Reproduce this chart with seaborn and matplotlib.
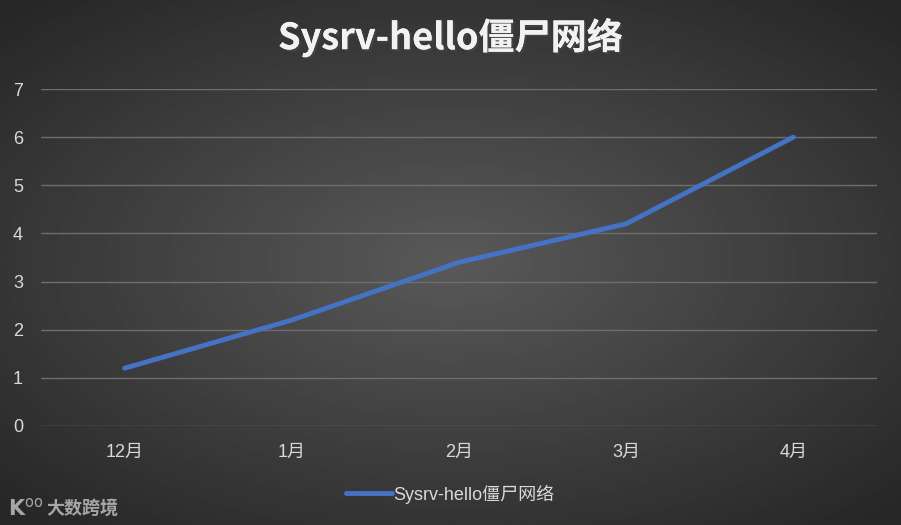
import numpy as np
import pandas as pd
import matplotlib
matplotlib.use("Agg")
import matplotlib.pyplot as plt
import matplotlib.patheffects as pe
from matplotlib.lines import Line2D
import seaborn as sns

# dati
months = ["12月", "1月", "2月", "3月", "4月"]
values = [1.2, 2.2, 3.4, 4.2, 6.0]
series_name = "Sysrv-hello僵尸网络"
title = "Sysrv-hello僵尸网络"
y_ticks = [0, 1, 2, 3, 4, 5, 6, 7]

df = pd.DataFrame({"Mese": months, "Valore": values, "Serie": series_name})

sns.set_theme(style="dark")
plt.rcParams["font.family"] = ["Liberation Sans", "Noto Sans CJK SC", "DejaVu Sans"]

fig = plt.figure(figsize=(9.01, 5.25), dpi=100)

# sfondo con gradiente radiale
bg = fig.add_axes([0, 0, 1, 1], zorder=0)
yy, xx = np.mgrid[-1:1:300j, -1:1:500j]
r = np.sqrt((xx * 0.95) ** 2 + (yy * 1.0) ** 2)
inner, outer = 0.35, 0.15
img = inner - (inner - outer) * np.clip(r / 1.35, 0, 1)
bg.imshow(img, cmap="gray", vmin=0, vmax=1, aspect="auto", extent=[0, 1, 0, 1])
bg.set_axis_off()

ax = fig.add_axes([41 / 901, 1 - 426 / 525, 836 / 901, 337 / 525], zorder=1)
ax.patch.set_alpha(0)

sns.lineplot(data=df, x="Mese", y="Valore", hue="Serie", palette=["#4472C4"],
             linewidth=3.5, sort=False, ax=ax, legend=False, zorder=3)

ax.set_xlim(-0.5, len(months) - 0.5)
ax.set_ylim(0, 7)
ax.set_yticks(y_ticks)
ax.grid(axis="y", color="#6e6e6e", linewidth=1)
ax.grid(axis="x", visible=False)
for s in ax.spines.values():
    s.set_visible(False)
ax.tick_params(axis="both", length=0, colors="#d9d9d9", labelsize=13)
ax.tick_params(axis="y", pad=13)
ax.tick_params(axis="x", pad=13)
ax.set_xlabel("")
ax.set_ylabel("")

fig.text(0.5, 1 - 38 / 525, title, ha="center", va="center", color="#f2f2f2",
         fontsize=26, fontweight="bold", family=["Noto Sans CJK SC"],
         path_effects=[pe.withSimplePatchShadow(offset=(1.5, -1.5), alpha=0.6),
                       pe.Normal()])

# legenda in basso
handle = Line2D([0], [0], color="#4472C4", linewidth=3.5)
fig.legend([handle], [series_name], loc="center", bbox_to_anchor=(0.5, 1 - 494 / 525),
           frameon=False, fontsize=13, labelcolor="#d9d9d9", handlelength=2.5,
           handletextpad=0.1)

# filigrana
fig.text(8 / 901, 1 - 508 / 525, r"K$^{\mathsf{oo}}$", color="#a6a6a6", fontsize=15,
         fontweight="bold", va="center", family=["DejaVu Sans"])
fig.text(46 / 901, 1 - 508 / 525, "大数跨境", color="#a6a6a6", fontsize=13,
         fontweight="bold", va="center", family=["Noto Sans CJK SC"])

fig.savefig("out.png", dpi=100)
